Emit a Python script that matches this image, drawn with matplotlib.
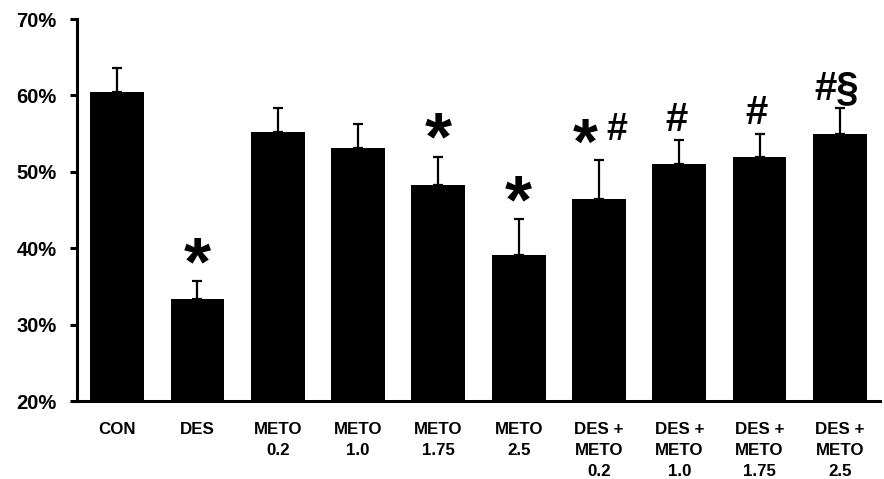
import matplotlib
matplotlib.use("Agg")
import matplotlib.pyplot as plt

categories = ["CON", "DES", "METO\n0.2", "METO\n1.0", "METO\n1.75", "METO\n2.5",
              "DES +\nMETO\n0.2", "DES +\nMETO\n1.0", "DES +\nMETO\n1.75", "DES +\nMETO\n2.5"]
values = [60.4, 33.3, 55.2, 53.1, 48.3, 39.1, 46.4, 51.0, 52.0, 55.0]
errors = [3.2, 2.4, 3.1, 3.2, 3.7, 4.7, 5.1, 3.1, 3.0, 3.3]
stars = ["", "*", "", "", "*", "*", "*", "", "", ""]
marks = ["", "", "", "", "", "", "#", "#", "#", "#§"]
yticks = [20, 30, 40, 50, 60, 70]
ytick_labels = ["20%", "30%", "40%", "50%", "60%", "70%"]

plt.rcParams['font.family'] = ['Liberation Sans', 'DejaVu Sans']

fig = plt.figure(figsize=(8.84, 4.79), dpi=100)
ax = fig.add_axes([0.0871, 0.1628, 0.9084, 0.7975])

x = list(range(len(values)))
ax.bar(x, [v - 20 for v in values], bottom=20, width=0.67, color="black", zorder=2)
ax.errorbar(x, values, yerr=[[0] * len(errors), errors], fmt="none", ecolor="black",
            elinewidth=1.6, capsize=3.3, capthick=1.6, zorder=1)

ax.set_xlim(-0.5, 9.5)
ax.set_ylim(20, 70)
ax.set_yticks(yticks)
ax.set_yticklabels(ytick_labels, fontsize=14.5, fontweight="bold")
ax.set_xticks(x)
ax.set_xticklabels(categories, fontsize=12.2, fontweight="bold", linespacing=1.5)
ax.tick_params(axis="x", length=0, pad=15)
ax.tick_params(axis="y", length=5, width=2.2, pad=9.5)

for side in ["top", "right"]:
    ax.spines[side].set_visible(False)
for side in ["left", "bottom"]:
    ax.spines[side].set_linewidth(2.2)

for i, (v, e, s, m) in enumerate(zip(values, errors, stars, marks)):
    top = v + e
    if s and m:
        ax.text(i - 0.17, top - 0.4, s, ha="center", va="baseline", fontsize=46,
                fontweight="bold")
        ax.text(i + 0.22, top + 2.6, m, ha="center", va="baseline", fontsize=27,
                fontweight="bold")
    elif s:
        ax.text(i, top - 0.4, s, ha="center", va="baseline", fontsize=50,
                fontweight="bold")
    elif m:
        ax.text(i - 0.04, top + 1.2, m, ha="center", va="baseline", fontsize=29,
                fontweight="bold")

fig.savefig("out.png", dpi=100)
